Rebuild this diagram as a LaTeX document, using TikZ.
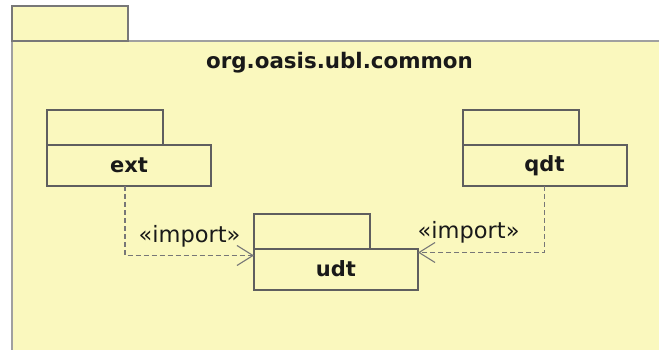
\documentclass[tikz,border=0pt]{standalone}
\usepackage{fontspec}
\setmainfont{DejaVu Sans}
\usetikzlibrary{arrows.meta}
\definecolor{pkgfill}{RGB}{250,248,190}
\definecolor{pkgline}{RGB}{95,95,95}
\definecolor{outerline}{RGB}{160,160,160}
\definecolor{txt}{RGB}{25,25,25}

\tikzset{
  pkgbody/.style={draw=pkgline, fill=pkgfill, line width=2pt, minimum width=164pt,
    minimum height=41pt, inner sep=0pt, outer sep=0pt,
    font=\fontsize{21}{25}\selectfont\bfseries, text=txt},
  pkgtab/.style={draw=pkgline, fill=pkgfill, line width=2pt, minimum width=116pt,
    minimum height=35pt, inner sep=0pt, outer sep=0pt, anchor=south west},
  import/.style={draw=pkgline!85, line width=1.8pt, dash pattern=on 5pt off 3pt,
    -{Straight Barb[length=16pt,width=20pt,line width=1.1pt]}},
  importlbl/.style={anchor=base, font=\fontsize{22.5}{26}\selectfont, text=txt}
}

\begin{document}
\begin{tikzpicture}[x=1pt,y=-1pt]
    \useasboundingbox (0,0) rectangle (659,350);
    \clip (0,0) rectangle (659,350);
    %outer package, cut off at the right and bottom
    \draw[draw=outerline, fill=pkgfill, line width=2.8pt] (12,41) rectangle (680,370);
    \draw[draw=outerline!75!black, fill=pkgfill, line width=2.2pt] (12,6) rectangle (128,41);
    \node[anchor=base, font=\fontsize{21.4}{25}\selectfont\bfseries, text=txt] (common) at (339.5,69) {org.oasis.ubl.common};
    %inner packages
    \node[pkgbody] (ext) at (129,165.5) {ext};
    \node[pkgtab] (exttab) at (ext.north west) {};
    \node[pkgbody] (qdt) at (544.5,165.5) {qdt};
    \node[pkgtab] (qdttab) at (qdt.north west) {};
    \node[pkgbody] (udt) at (336,269) {udt};
    \node[pkgtab] (udttab) at (udt.north west) {};
    %dependencies
    \draw[import] ([xshift=-4pt]ext.south) |- ([yshift=-7pt]udt.north west)
        node[importlbl, pos=0.75, yshift=13pt] (extimp) {«import»};
    \draw[import] (qdt.south) |- ([yshift=-4pt]udt.north east)
        node[importlbl, pos=0.8, yshift=14pt] (qdtimp) {«import»};
\end{tikzpicture}
\end{document}
